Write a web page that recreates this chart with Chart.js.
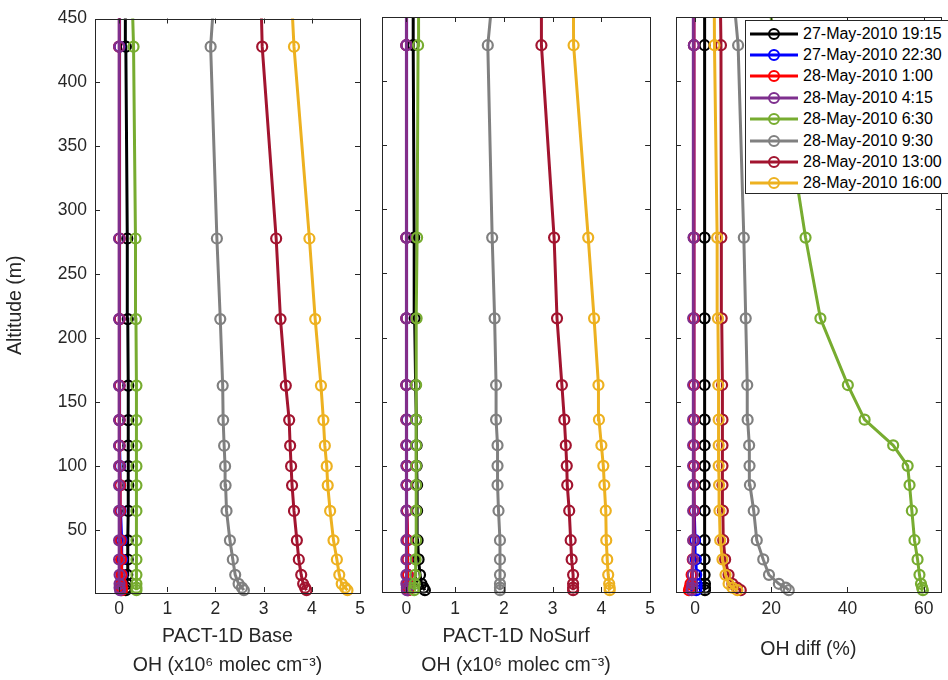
<!DOCTYPE html>
<html>
<head>
<meta charset="utf-8">
<script src="https://cdn.jsdelivr.net/npm/chart.js@4.4.1/dist/chart.umd.min.js"></script>
<style>
  html, body { margin: 0; padding: 0; background: #fff; overflow: hidden; }
  #wrap { position: relative; width: 948px; height: 680px; overflow: hidden; }
  canvas { position: absolute; top: 0; }
  #legend {
    position: absolute; left: 745px; top: 20px; width: 215px; height: 174px;
    background: #fff; border: 1px solid #262626; box-sizing: border-box;
    font: 16px 'Liberation Sans', Arial, sans-serif; color: #000;
    padding-top: 2px; z-index: 5;
  }
  .row { height: 21.4px; display: flex; align-items: center; white-space: nowrap; }
  .row svg { margin-left: 4px; margin-right: 5px; flex: none; }
</style>
</head>
<body>
<div id="wrap">
  <canvas id="c1" width="372" height="680" style="left:0"></canvas>
  <canvas id="c2" width="290" height="680" style="left:372px"></canvas>
  <canvas id="c3" width="286" height="680" style="left:662px"></canvas>
  <div id="legend"></div>
</div>
<script>
// altitude levels (m), bottom to top; the last one sits above the plotted range
const altitude = [3, 5, 8, 15, 27, 42, 65, 85, 100, 116, 136, 163, 215, 278, 428, 600];

const seriesLabels = ['27-May-2010 19:15', '27-May-2010 22:30', '28-May-2010 1:00', '28-May-2010 4:15',
                      '28-May-2010 6:30', '28-May-2010 9:30', '28-May-2010 13:00', '28-May-2010 16:00'];
const seriesColors = ['#000000', '#0000ff', '#ff0000', '#7e2f8e', '#77ac30', '#808080', '#a2142f', '#edb120'];

// PACT-1D Base, OH (x10^6 molec cm^-3)
const base1915 = [0.14, 0.15, 0.16, 0.17, 0.18, 0.18, 0.19, 0.19, 0.19, 0.19, 0.19, 0.19, 0.18, 0.17, 0.14, 0.13];
const base2230 = [0.04, 0.05, 0.05, 0.06, 0.06, 0.05, 0.03, 0.02, 0.02, 0.01, 0.01, 0.01, 0.01, 0.01, 0.01, 0.01];
const base0100 = [0.06, 0.06, 0.05, 0.05, 0.04, 0.03, 0.02, 0.02, 0.01, 0.01, 0.01, 0.01, 0.01, 0.01, 0.00, 0.00];
const base0415 = [0.02, 0.01, 0.01, 0.01, 0.00, 0.00, 0.00, 0.00, 0.00, 0.00, 0.00, 0.00, 0.00, 0.00, 0.00, 0.00];
const base0630 = [0.36, 0.36, 0.36, 0.36, 0.36, 0.36, 0.36, 0.36, 0.36, 0.36, 0.36, 0.36, 0.35, 0.34, 0.30, 0.17];
const base0930 = [2.59, 2.55, 2.48, 2.41, 2.36, 2.30, 2.23, 2.21, 2.20, 2.18, 2.16, 2.15, 2.10, 2.03, 1.90, 2.21];
const base1300 = [3.89, 3.86, 3.82, 3.78, 3.73, 3.69, 3.63, 3.59, 3.57, 3.55, 3.53, 3.46, 3.35, 3.26, 2.97, 2.86];
const base1600 = [4.74, 4.69, 4.62, 4.57, 4.52, 4.45, 4.38, 4.33, 4.31, 4.27, 4.24, 4.19, 4.07, 3.95, 3.63, 3.40];

// PACT-1D NoSurf, OH (x10^6 molec cm^-3)
const nosurf1915 = [0.38, 0.35, 0.31, 0.28, 0.25, 0.23, 0.22, 0.22, 0.21, 0.21, 0.20, 0.19, 0.17, 0.16, 0.14, 0.14];
const nosurf2230 = [0.03, 0.03, 0.03, 0.03, 0.02, 0.02, 0.01, 0.01, 0.01, 0.01, 0.01, 0.00, 0.00, 0.00, 0.00, 0.00];
const nosurf0100 = [0.04, 0.04, 0.03, 0.03, 0.02, 0.02, 0.01, 0.01, 0.01, 0.00, 0.00, 0.00, 0.00, 0.00, 0.00, 0.00];
const nosurf0415 = [0.01, 0.01, 0.00, 0.00, 0.00, 0.00, 0.00, 0.00, 0.00, 0.00, 0.00, 0.00, 0.00, 0.00, 0.00, 0.00];
const nosurf0630 = [0.16, 0.16, 0.17, 0.18, 0.19, 0.20, 0.20, 0.20, 0.20, 0.20, 0.20, 0.20, 0.21, 0.22, 0.24, 0.25];
const nosurf0930 = [1.92, 1.92, 1.92, 1.92, 1.92, 1.92, 1.89, 1.87, 1.87, 1.87, 1.84, 1.84, 1.81, 1.76, 1.67, 2.10];
const nosurf1300 = [3.42, 3.42, 3.42, 3.42, 3.39, 3.37, 3.34, 3.30, 3.29, 3.27, 3.24, 3.19, 3.09, 3.03, 2.77, 2.77];
const nosurf1600 = [4.17, 4.17, 4.16, 4.14, 4.12, 4.10, 4.09, 4.06, 4.04, 4.00, 3.95, 3.94, 3.85, 3.73, 3.43, 3.41];

// OH diff (%)
const diff1915 = [2.6, 2.6, 2.6, 2.5, 2.5, 2.5, 2.5, 2.5, 2.5, 2.5, 2.5, 2.5, 2.5, 2.5, 2.5, 2.5];
const diff2230 = [0.3, 0.4, 0.4, 0.3, 0.2, 0.0, -0.2, -0.3, -0.3, -0.3, -0.3, -0.3, -0.3, -0.3, -0.3, -0.3];
const diff0100 = [-1.6, -1.4, -1.2, -0.9, -0.6, -0.4, -0.3, -0.3, -0.3, -0.3, -0.3, -0.3, -0.3, -0.3, -0.3, -0.3];
const diff0415 = [-0.9, -0.8, -0.7, -0.6, -0.5, -0.5, -0.5, -0.5, -0.5, -0.5, -0.5, -0.5, -0.5, -0.4, -0.3, -0.3];
const diff0630 = [59.8, 59.6, 59.3, 58.9, 58.4, 57.6, 56.9, 56.3, 55.8, 52.0, 44.5, 40.1, 32.9, 29.0, 21.1, 12.0];
const diff0930 = [24.6, 23.8, 22.0, 19.4, 17.9, 16.2, 15.4, 14.4, 14.3, 14.2, 13.8, 13.7, 13.3, 12.8, 11.3, 6.0];
const diff1300 = [12.0, 11.0, 9.8, 8.8, 7.9, 7.4, 7.3, 7.2, 7.2, 7.2, 7.2, 7.1, 7.0, 6.9, 6.8, 6.0];
const diff1600 = [11.1, 9.8, 8.8, 8.0, 7.2, 6.6, 6.4, 6.3, 6.2, 6.2, 6.2, 6.1, 6.0, 5.8, 5.1, 4.8];

// axes
const yMin = 1.6, yMax = 450;
const yTicks = [50, 100, 150, 200, 250, 300, 350, 400, 450];
const ohTicks = [0, 1, 2, 3, 4, 5];
const diffTicks = [0, 20, 40, 60];

const textColor = '#262626';
Chart.defaults.font.family = "'Liberation Sans', Arial, Helvetica, sans-serif";
Chart.defaults.color = textColor;

// MATLAB style box with inward tick marks on all four sides
const framePlugin = {
  id: 'frame',
  afterDraw(chart, args, opts) {
    const {ctx, chartArea: a, scales: {x, y}} = chart;
    const len = 5;
    ctx.save();
    ctx.strokeStyle = textColor;
    ctx.lineWidth = 1;
    ctx.beginPath();
    opts.xTicks.forEach(v => {
      const px = Math.round(x.getPixelForValue(v)) + 0.5;
      ctx.moveTo(px, a.bottom); ctx.lineTo(px, a.bottom - len);
      ctx.moveTo(px, a.top); ctx.lineTo(px, a.top + len);
    });
    yTicks.forEach(v => {
      const py = Math.round(y.getPixelForValue(v)) + 0.5;
      ctx.moveTo(a.left, py); ctx.lineTo(a.left + len, py);
      ctx.moveTo(a.right, py); ctx.lineTo(a.right - len, py);
    });
    ctx.stroke();
    ctx.strokeRect(Math.round(a.left) + 0.5, Math.round(a.top) + 0.5,
                   Math.round(a.right - a.left), Math.round(a.bottom - a.top));
    ctx.restore();
  }
};

function buildDatasets(series) {
  return series.map((vals, i) => ({
    label: seriesLabels[i],
    data: vals.map((v, k) => ({x: v, y: altitude[k]})),
    borderColor: seriesColors[i],
    pointBorderColor: seriesColors[i],
    pointBackgroundColor: 'rgba(255,255,255,0)',
    borderWidth: 3,
    pointRadius: 5,
    pointBorderWidth: 2.2,
    tension: 0,
    order: series.length - i,   // later series drawn on top
    clip: {left: 8, right: 8, top: 0, bottom: 8}
  }));
}

function makePanel(id, series, xMin, xMax, xTicks, xTitle, titlePadBottom, showY, padding) {
  const tickFont = {size: 17.5};
  const titleFont = {size: 19.5, lineHeight: 1.49};
  new Chart(document.getElementById(id), {
    type: 'line',
    data: {datasets: buildDatasets(series)},
    options: {
      responsive: false,
      animation: false,
      layout: {padding: padding},
      plugins: {legend: {display: false}, tooltip: {enabled: false}, frame: {xTicks: xTicks}},
      scales: {
        x: {
          type: 'linear', min: xMin, max: xMax,
          afterBuildTicks: s => { s.ticks = xTicks.map(v => ({value: v})); },
          afterFit: s => { s.height = 88; },
          grid: {display: false, drawTicks: false},
          border: {display: false},
          ticks: {padding: 7, font: tickFont, color: textColor},
          title: {display: true, text: xTitle, font: titleFont, color: textColor,
                  padding: {top: 0, bottom: titlePadBottom}}
        },
        y: {
          type: 'linear', min: yMin, max: yMax, display: showY,
          afterBuildTicks: s => { s.ticks = yTicks.map(v => ({value: v})); },
          afterFit: s => { if (showY) s.width = 95; },
          grid: {display: false, drawTicks: false},
          border: {display: false},
          ticks: {padding: 8, font: tickFont, color: textColor},
          title: {display: true, text: 'Altitude (m)', font: titleFont, color: textColor,
                  padding: {top: 1, bottom: 0}}
        }
      }
    },
    plugins: [framePlugin]
  });
}

makePanel('c1', [base1915, base2230, base0100, base0415, base0630, base0930, base1300, base1600],
  -0.5, 5, ohTicks, ['PACT-1D Base', 'OH (x10\u2076 molec cm\u207B\u00B3)'], 0, true,
  {left: 0, right: 12, top: 17, bottom: 0});

makePanel('c2', [nosurf1915, nosurf2230, nosurf0100, nosurf0415, nosurf0630, nosurf0930, nosurf1300, nosurf1600],
  -0.5, 5, ohTicks, ['PACT-1D NoSurf', 'OH (x10\u2076 molec cm\u207B\u00B3)'], 0, false,
  {left: 10, right: 11, top: 17, bottom: 0});

makePanel('c3', [diff1915, diff2230, diff0100, diff0415, diff0630, diff0930, diff1300, diff1600],
  -5, 64.5, diffTicks, 'OH diff (%)', 15.5, false,
  {left: 14, right: 1, top: 17, bottom: 0});

// legend, boxed, top right of the third panel
const legend = document.getElementById('legend');
seriesLabels.forEach((label, i) => {
  const row = document.createElement('div');
  row.className = 'row';
  const c = seriesColors[i];
  row.innerHTML = '<svg width="48" height="14"><line x1="0" y1="7" x2="48" y2="7" stroke="' + c +
    '" stroke-width="3"/><circle cx="24" cy="7" r="5" fill="none" stroke="' + c +
    '" stroke-width="2"/></svg><span>' + label + '</span>';
  legend.appendChild(row);
});
</script>
</body>
</html>
